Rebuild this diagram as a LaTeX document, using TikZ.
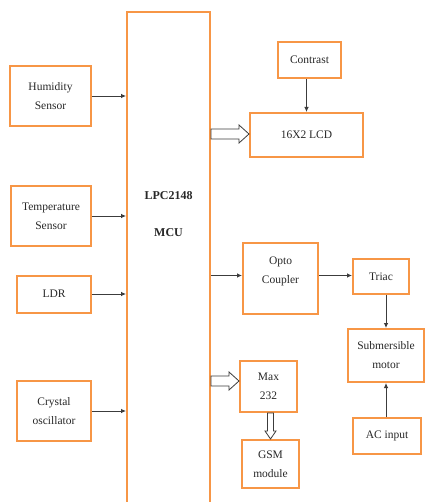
\documentclass[tikz,border=0pt]{standalone}
\usepackage{fontspec}
\setmainfont{Liberation Serif}
\usetikzlibrary{calc,arrows.meta}
\definecolor{boxorange}{RGB}{247,150,70}
\definecolor{txtgray}{RGB}{40,40,40}
\definecolor{arrgray}{RGB}{60,60,60}
\tikzset{
  blk/.style={draw=boxorange,line width=2pt,inner sep=0pt,align=center,text=txtgray,
    font=\fontsize{11.5}{19}\selectfont},
  lbl/.style={align=center,text=txtgray,inner sep=0pt,font=\fontsize{11.5}{19}\selectfont},
  conn/.style={draw=arrgray,line width=0.8pt,-{Latex[length=5pt,width=4.5pt]}},
  hollow/.style={draw=arrgray,line width=0.8pt,fill=white,line join=miter}
}
\newcommand{\hollowH}[2]{%
  \draw[hollow] ($(#1)+(0,-5)$) -- ($(#2)+(-10,-5)$) -- ($(#2)+(-10,-9)$) -- (#2)
    -- ($(#2)+(-10,9)$) -- ($(#2)+(-10,5)$) -- ($(#1)+(0,5)$) -- cycle;}
\newcommand{\hollowV}[2]{%
  \draw[hollow] ($(#1)+(-3,0)$) -- ($(#2)+(-3,-8)$) -- ($(#2)+(-5.5,-8)$) -- (#2)
    -- ($(#2)+(5.5,-8)$) -- ($(#2)+(3,-8)$) -- ($(#1)+(3,0)$) -- cycle;}
\begin{document}
\begin{tikzpicture}[x=1pt,y=-1pt]
\useasboundingbox (0,0) rectangle (425,502);
\clip (0,0) rectangle (425,502);
\fill[white] (0,0) rectangle (425,502);
% MCU
\node[blk,minimum width=83pt,minimum height=510pt] (mcu) at (168.5,267) {};
\node[lbl,font=\fontsize{12}{19}\selectfont\bfseries] (lpc) at (168.5,196) {LPC2148};
\node[lbl,font=\fontsize{12}{19}\selectfont\bfseries] (mcut) at (168.5,233) {MCU};
% left blocks
\node[blk,minimum width=81pt,minimum height=60pt] (hum) at (50.5,96) {Humidity\\Sensor};
\node[blk,minimum width=80pt,minimum height=60pt] (temp) at (51,216) {Temperature\\Sensor};
\node[blk,minimum width=74pt,minimum height=37pt] (ldr) at (54,294) {LDR};
\node[blk,minimum width=74pt,minimum height=60pt] (xtal) at (54,411) {Crystal\\oscillator};
% right blocks
\node[blk,minimum width=63pt,minimum height=36pt] (con) at (309.5,60) {Contrast};
\node[blk,minimum width=113pt,minimum height=44pt] (lcd) at (306.5,135) {16X2 LCD};
\node[blk,minimum width=75pt,minimum height=71pt] (opto) at (280.5,278.5) {};
\node[lbl] (optot) at (280.5,271) {Opto\\Coupler};
\node[blk,minimum width=56pt,minimum height=35pt] (triac) at (381,276.5) {Triac};
\node[blk,minimum width=76pt,minimum height=53pt] (motor) at (386,355.5) {Submersible\\motor};
\node[blk,minimum width=68pt,minimum height=36pt] (ac) at (387,436) {AC input};
\node[blk,minimum width=57pt,minimum height=51pt] (max) at (268.5,386.5) {Max\\232};
\node[blk,minimum width=57pt,minimum height=48pt] (gsm) at (270.5,464) {GSM\\module};
% connectors
\draw[conn] (hum.east) -- (hum.east -| mcu.west);
\draw[conn] (temp.east) -- (temp.east -| mcu.west);
\draw[conn] (ldr.east) -- (ldr.east -| mcu.west);
\draw[conn] (xtal.east) -- (xtal.east -| mcu.west);
\draw[conn] (con.south -| lcd.north) -- (lcd.north);
\coordinate (optoin) at ($(opto.west)+(0,-3)$);
\draw[conn] (optoin -| mcu.east) -- (optoin);
\draw[conn] (optoin -| opto.east) -- (optoin -| triac.west);
\draw[conn] (triac.south -| motor.north) -- (motor.north);
\draw[conn] (ac.north -| motor.south) -- (motor.south);
\coordinate (lcdin) at ($(lcd.west)+(0,-1)$);
\coordinate (mcuout1) at (lcdin -| mcu.east);
\hollowH{mcuout1}{lcdin}
\coordinate (maxin) at ($(max.west)+(0,-5.5)$);
\coordinate (mcuout2) at (maxin -| mcu.east);
\hollowH{mcuout2}{maxin}
\coordinate (gsmin) at (gsm.north);
\coordinate (maxout) at (max.south -| gsm.north);
\hollowV{maxout}{gsmin}
\end{tikzpicture}
\end{document}
